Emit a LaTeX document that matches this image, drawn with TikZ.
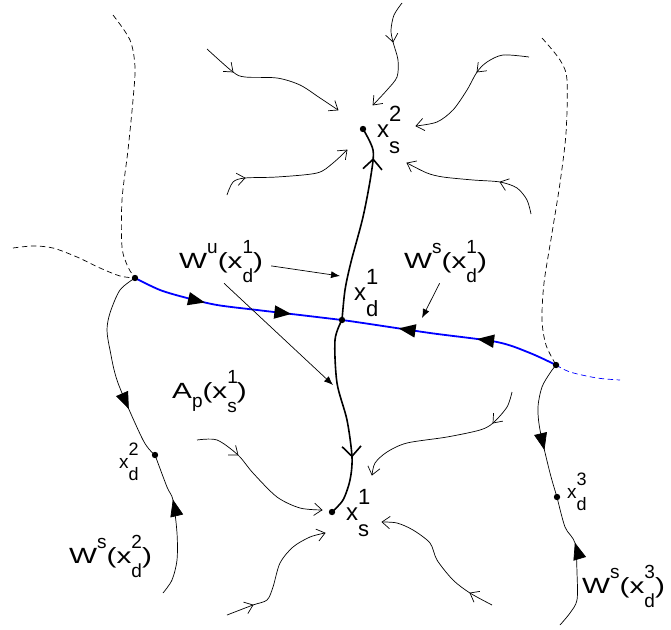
\documentclass[tikz,border=0pt]{standalone}
\usepackage{fontspec}
\setmainfont{Liberation Sans}
\newfontfamily\widefont[FakeStretch=1.35]{Liberation Sans}
\usetikzlibrary{arrows.meta,decorations.markings,calc}

% open chevron with its tip at #1, opening towards #2
\newcommand{\chev}[2]{\draw[flow] ($(#1)!10pt!38:(#2)$) -- (#1) -- ($(#1)!10pt!-38:(#2)$);}
% stacked sub- and superscript, single super- and subscript
\newcommand{\xsubsup}[3][19]{\rlap{\raisebox{0.65em}{\normalfont\fontsize{#1}{#1}\selectfont #3}}\raisebox{-0.68em}{\normalfont\fontsize{#1}{#1}\selectfont #2}}
\newcommand{\supx}[1]{\raisebox{0.68em}{\normalfont\fontsize{19}{19}\selectfont #1}}
\newcommand{\subx}[1]{\raisebox{-0.45em}{\normalfont\fontsize{19}{19}\selectfont #1}}

\begin{document}
\begin{tikzpicture}[x=1pt,y=-1pt,
  flow/.style={line width=0.7pt},
  dashline/.style={line width=0.7pt, dash pattern=on 5.5pt off 3.5pt},
  blueline/.style={line width=1.8pt, blue},
  thickline/.style={line width=1.6pt},
  pointer/.style={line width=0.7pt, -{Latex[length=9pt,width=7pt]}},
  bigbarb/.style={postaction={decorate, decoration={markings, mark=at position #1 with {\arrow{Straight Barb[length=10pt,width=19pt]}}}}},
  tri/.style={postaction={decorate, decoration={markings, mark=at position #1 with {\arrow[black]{Triangle[length=17pt,width=13pt]}}}}},
  wtext/.style={font=\widefont\fontsize{22}{23}\selectfont, inner sep=0pt, anchor=base west},
  ptext/.style={font=\fontsize{24}{25}\selectfont, inner sep=0pt, anchor=base west},
  stext/.style={font=\fontsize{19}{20}\selectfont, inner sep=0pt, anchor=base west}]
\useasboundingbox (0,0) rectangle (671,629);

% fixed points
\coordinate (S2) at (363,129);
\coordinate (S1) at (332,512);
\coordinate (D1) at (342,320);
\coordinate (L) at (135,278);
\coordinate (R) at (556,365);
\coordinate (D2) at (155,455);
\coordinate (D3) at (557,497);

% dashed boundaries
\draw[dashline] plot[smooth] coordinates {(113,15) (130,40) (135,67) (133,100) (128,150) (122,200) (122,247) (128,267) (L)};
\draw[dashline] plot[smooth] coordinates {(13,248) (33,246) (53,248) (77,257) (100,268) (120,276) (L)};
\draw[dashline] plot[smooth] coordinates {(542,38) (560,60) (567,80) (566,133) (560,183) (552,233) (544,283) (542,320) (546,345) (R)};
\draw[dashline, blue] plot[smooth] coordinates {(R) (570,372) (597,378) (620,380)};

% stable manifold of x_d^1
\draw[blueline, tri=0.35, tri=0.76] plot[smooth] coordinates {(L) (160,290) (187,298) (217,305) (257,310) (300,315) (D1)};
\draw[blueline, tri=0.38, tri=0.74] plot[smooth] coordinates {(R) (530,353) (497,342) (430,333) (363,323) (D1)};

% unstable manifold of x_d^1
\draw[thickline, bigbarb=0.84] plot[smooth] coordinates {(D1) (345,290) (351,262) (363,217) (371,175) (373,150) (S2)};
\draw[thickline, bigbarb=0.70] plot[smooth] coordinates {(D1) (335,340) (337,383) (347,420) (352,457) (350,480) (343,500) (S1)};

% stable manifolds of x_d^2 and x_d^3
\draw[flow, tri=0.73] plot[smooth] coordinates {(L) (120,290) (110,313) (107,330) (110,350) (118,383) (143,440) (D2)};
\draw[flow, tri=0.67] plot[smooth] coordinates {(163,593) (172,580) (177,560) (177,533) (173,500) (167,487) (D2)};
\draw[flow, tri=0.65] plot[smooth] coordinates {(R) (550,373) (542,387) (538,407) (540,430) (550,473) (D3)};
\draw[flow, tri=0.64] plot[smooth] coordinates {(560,625) (570,613) (577,600) (577,573) (575,543) (565,527) (D3)};

% trajectories towards x_s^2
\draw[flow] plot[smooth] coordinates {(207,49) (233,72) (245,77) (277,78) (300,85) (320,98) (338,110)};
\chev{233,72}{207,49} \chev{338,110}{320,98}
\draw[flow] plot[smooth] coordinates {(227,195) (233,182) (245,178) (277,177) (317,173) (333,163) (347,150)};
\chev{245,178}{233,180} \chev{347,150}{333,163}
\draw[flow] plot[smooth] coordinates {(402,3) (394,15) (391,30) (393,42) (398,60) (397,77) (387,90) (373,105)};
\chev{393,42}{391,30} \chev{373,105}{387,90}
\draw[flow] plot[smooth] coordinates {(529,57) (503,55) (487,62) (477,72) (467,90) (453,110) (437,122) (416,126)};
\chev{477,72}{487,62} \chev{416,126}{437,122}
\draw[flow] plot[smooth] coordinates {(531,214) (527,200) (517,188) (500,182) (473,180) (443,177) (427,173) (407,163)};
\chev{500,182}{517,188} \chev{407,163}{427,173}

% trajectories towards x_s^1
\draw[flow] plot[smooth] coordinates {(197,440) (217,440) (238,455) (253,473) (277,497) (300,508) (322,510)};
\chev{238,455}{224,444} \chev{322,510}{300,508}
\draw[flow] plot[smooth] coordinates {(227,615) (253,605) (267,600) (273,587) (280,563) (293,547) (310,537) (325,533)};
\chev{253,605}{227,615} \chev{325,533}{310,537}
\draw[flow] plot[smooth] coordinates {(512,392) (507,407) (493,423) (480,430) (447,437) (407,443) (387,452) (375,463) (372,475)};
\chev{493,423}{507,407} \chev{372,475}{375,463}
\draw[flow] plot[smooth] coordinates {(492,605) (470,593) (453,580) (437,560) (430,543) (413,530) (397,523) (382,522)};
\chev{470,593}{492,605} \chev{382,522}{397,523}

% dots
\foreach \p in {S1,S2,D1,L,R,D2,D3}
  \fill (\p) circle (3.2pt);

% labels
\node[wtext] (wu) at (179,268) {W\supx{u}(x\xsubsup{d}{1})};
\node[wtext] (ws1) at (404,268) {W\supx{s}(x\xsubsup{d}{1})};
\node[wtext] (ap) at (172,398) {A\subx{p}(x\xsubsup{s}{1})};
\node[wtext] (ws2) at (69,563) {W\supx{s}(x\xsubsup{d}{2})};
\node[wtext] (ws3) at (582,593) {W\supx{s}(x\xsubsup{d}{3})};
\node[ptext] (ls2) at (377,137) {x\xsubsup[22]{s}{2}};
\node[ptext] (ls1) at (346,520) {x\xsubsup[22]{s}{1}};
\node[ptext] (ld1) at (354,300) {x\xsubsup[22]{d}{1}};
\node[stext] (ld2) at (119,468) {x\xsubsup[18]{d}{2}};
\node[stext] (ld3) at (567,498) {x\xsubsup[18]{d}{3}};

% pointers
\coordinate (t1) at (340,276);
\coordinate (t2) at (333,385);
\coordinate (t3) at (422,318);
\draw[pointer] ([xshift=8pt,yshift=-4pt]wu.east) -- (t1);
\draw[pointer] ([xshift=3pt]wu.south) -- (t2);
\draw[pointer] ([xshift=-6pt]ws1.south) -- (t3);
\end{tikzpicture}
\end{document}
